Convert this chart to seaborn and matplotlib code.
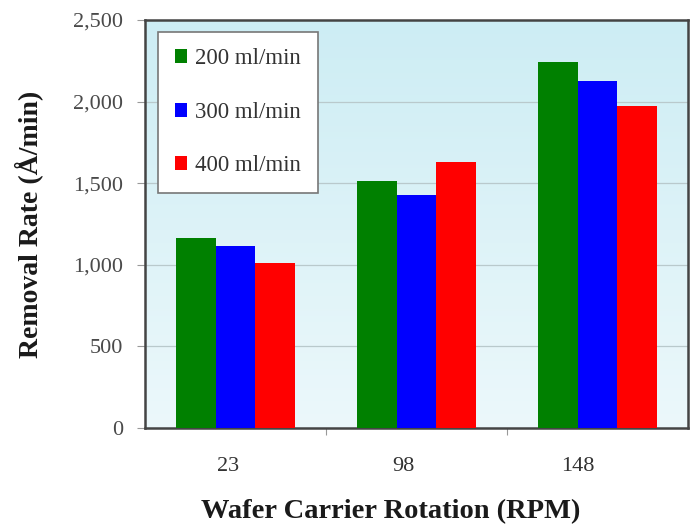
import numpy as np
import pandas as pd
import matplotlib
matplotlib.use("Agg")
import matplotlib.pyplot as plt
import matplotlib.transforms as mtrans
import seaborn as sns
from matplotlib.ticker import FuncFormatter, FixedLocator
from matplotlib.colors import LinearSegmentedColormap

categories = ["23", "98", "148"]
series_names = ["200 ml/min", "300 ml/min", "400 ml/min"]
vals_200 = [1165, 1515, 2245]
vals_300 = [1115, 1428, 2128]
vals_400 = [1010, 1630, 1973]
yticks = [0, 500, 1000, 1500, 2000, 2500]
colors = ["#008000", "#0000ff", "#ff0000"]

rows = []
for name, vals in zip(series_names, [vals_200, vals_300, vals_400]):
    for c, v in zip(categories, vals):
        rows.append({"rpm": c, "flow": name, "rate": v})
df = pd.DataFrame(rows)

sns.set_theme(style="white")
plt.rcParams["font.family"] = ["Liberation Serif", "DejaVu Serif"]

fig = plt.figure(figsize=(6.9, 5.24), dpi=100)
ax = fig.add_axes([145/690, 96/524, 543/690, 408/524])

# gradient background
grad = np.linspace(0, 1, 256).reshape(-1, 1)
cmap = LinearSegmentedColormap.from_list("bg", ["#cdedf4", "#ecf8fb"])
ax.imshow(grad, cmap=cmap, aspect="auto", extent=[0, 1, 0, 1],
          transform=ax.transAxes, zorder=0)

sns.barplot(data=df, x="rpm", y="rate", hue="flow", order=categories,
            hue_order=series_names, palette=colors, width=0.66,
            saturation=1, ax=ax, zorder=3, edgecolor="none", linewidth=0)

ax.set_xlim(-0.5, 2.5)
ax.set_ylim(0, 2500)
ax.set_yticks(yticks)
ax.yaxis.set_major_formatter(FuncFormatter(lambda v, p: f"{int(v):,}"))
for y in yticks[1:-1]:
    ax.axhline(y, color="#b9c9cc", lw=0.9, zorder=1)

ax.tick_params(axis="y", which="major", length=6, width=0.8, color="#999999",
               labelsize=16, labelcolor="#4a4a4a", pad=10, left=True)
ax.tick_params(axis="x", which="major", length=0, labelsize=16,
               labelcolor="#333333", pad=21)
ax.xaxis.set_minor_locator(FixedLocator([0.5, 1.5]))
ax.tick_params(axis="x", which="minor", length=5, width=0.8, color="#999999",
               bottom=True)

# slight leftward offsets of category labels as in the reference
for lab, dx in zip(ax.get_xticklabels(), [-7, -13, -20]):
    lab.set_transform(lab.get_transform() +
                      mtrans.ScaledTranslation(dx / 100, 0, fig.dpi_scale_trans))

for s in ax.spines.values():
    s.set_color("#444444")
    s.set_linewidth(1.8)
    s.set_visible(True)

ax.set_xlabel("Wafer Carrier Rotation (RPM)", fontsize=20.5, fontweight="bold",
              color="#1a1a1a")
ax.xaxis.set_label_coords(0.452, -0.206)
ax.xaxis.label.set_verticalalignment("center")
ax.set_ylabel("Removal Rate (Å/min)", fontsize=20, fontweight="bold",
              color="#1a1a1a", labelpad=21)

leg = ax.legend(loc="upper left", bbox_to_anchor=(0.024, 0.971), frameon=True,
                fontsize=16.5, handlelength=0.55, handleheight=0.55,
                handletextpad=0.35, labelspacing=1.42, borderpad=0.72,
                borderaxespad=0, fancybox=False, framealpha=1)
leg.get_frame().set_edgecolor("#777777")
leg.get_frame().set_linewidth(1.2)
leg.get_frame().set_facecolor("white")
for t in leg.get_texts():
    t.set_color("#333333")
leg.set_zorder(5)

fig.savefig("out.png", dpi=100, facecolor="white")
